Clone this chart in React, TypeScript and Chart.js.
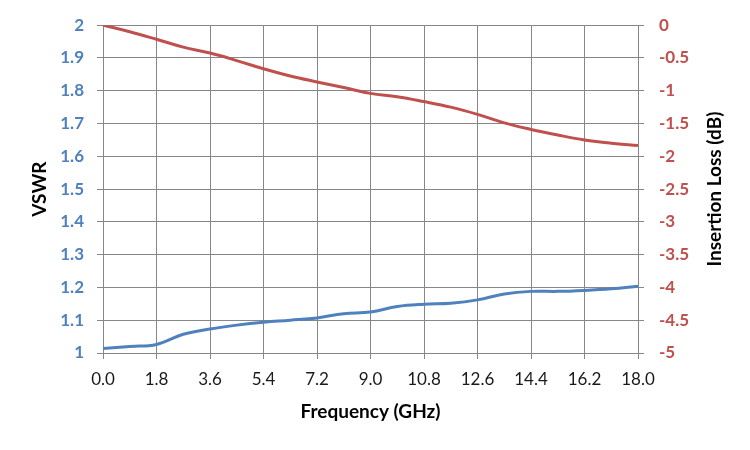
import { useEffect, useRef } from "react"
import { Chart, registerables } from "chart.js"

Chart.register(...registerables)

// frequency points in GHz
const freqs = [0, 0.9, 1.8, 2.7, 3.6, 4.5, 5.4, 6.3, 7.2, 8.1, 9.0, 9.9, 10.8, 11.7, 12.6, 13.5, 14.4, 15.3, 16.2, 17.1, 18.0]

const vswr = [
  1.014, 1.02, 1.026, 1.057, 1.073, 1.085, 1.094, 1.1, 1.107, 1.12, 1.125,
  1.142, 1.149, 1.152, 1.162, 1.18, 1.188, 1.188, 1.191, 1.196, 1.204,
]

const insertionLoss = [
  0, -0.1, -0.215, -0.335, -0.425, -0.54, -0.665, -0.775, -0.865, -0.95, -1.04,
  -1.09, -1.165, -1.25, -1.36, -1.49, -1.59, -1.675, -1.75, -1.8, -1.835,
]

const freqTicks = [0, 1.8, 3.6, 5.4, 7.2, 9.0, 10.8, 12.6, 14.4, 16.2, 18.0]

const BLUE = "#4F81BD"
const RED = "#C0504D"
const GRID = "#878787"
const FONT = "Lato, 'Open Sans', sans-serif"
const TICK_SIZE = 17
const TITLE_SIZE = 19

// right-hand title drawn bottom-to-top like the left one
const rightTitle = {
  id: "rightTitle",
  afterDraw(chart: Chart) {
    const ctx = chart.ctx
    const area = chart.chartArea
    ctx.save()
    ctx.translate(715, (area.top + area.bottom) / 2)
    ctx.rotate(-Math.PI / 2)
    ctx.font = `bold ${TITLE_SIZE}px ${FONT}`
    ctx.fillStyle = "#000"
    ctx.textAlign = "center"
    ctx.textBaseline = "middle"
    ctx.fillText("Insertion Loss (dB)", 0, 0)
    ctx.restore()
  },
}

export default function App() {
  const chartRef = useRef<HTMLCanvasElement | null>(null)
  const chartInstance = useRef<Chart | null>(null)

  useEffect(() => {
    if (!chartRef.current) return
    if (chartInstance.current) chartInstance.current.destroy()

    const ctx = chartRef.current.getContext("2d")
    if (!ctx) return

    const fmt = (v: number | string) => String(Math.round(Number(v) * 10) / 10)

    chartInstance.current = new Chart(ctx, {
      type: "line",
      data: {
        datasets: [
          {
            label: "VSWR",
            data: freqs.map((f, i) => ({ x: f, y: vswr[i] })),
            borderColor: BLUE,
            borderWidth: 3,
            pointRadius: 0,
            tension: 0.4,
            yAxisID: "y",
          },
          {
            label: "Insertion Loss",
            data: freqs.map((f, i) => ({ x: f, y: insertionLoss[i] })),
            borderColor: RED,
            borderWidth: 3,
            pointRadius: 0,
            tension: 0.4,
            yAxisID: "y2",
          },
        ],
      },
      options: {
        responsive: true,
        maintainAspectRatio: false,
        animation: false,
        layout: { padding: { top: 23, left: 0, right: 0, bottom: 0 } },
        plugins: {
          legend: { display: false },
          tooltip: { enabled: false },
        },
        scales: {
          x: {
            type: "linear",
            min: 0,
            max: 18,
            afterBuildTicks: (scale) => {
              scale.ticks = freqTicks.map((v) => ({ value: v }))
            },
            afterFit: (scale) => {
              scale.height = 97
            },
            grid: { color: GRID, tickLength: 6 },
            border: { color: GRID },
            ticks: {
              padding: 10,
              color: "#1a1a1a",
              font: { family: FONT, size: TICK_SIZE },
              maxRotation: 0,
              callback: (v) => Number(v).toFixed(1),
            },
            title: {
              display: true,
              text: "Frequency (GHz)",
              color: "#000",
              font: { family: FONT, size: TITLE_SIZE, weight: "bold" },
              padding: { top: 0, bottom: 27 },
            },
          },
          y: {
            position: "left",
            min: 1,
            max: 2,
            afterFit: (scale) => {
              scale.width = 103
            },
            grid: { color: GRID, tickLength: 6 },
            border: { color: GRID },
            ticks: {
              stepSize: 0.1,
              padding: 13,
              color: BLUE,
              font: { family: FONT, size: TICK_SIZE, weight: "bold" },
              callback: fmt,
            },
            title: {
              display: true,
              text: "VSWR",
              color: "#000",
              font: { family: FONT, size: TITLE_SIZE, weight: "bold" },
              padding: { top: 28, bottom: 0 },
            },
          },
          y2: {
            position: "right",
            min: -5,
            max: 0,
            afterFit: (scale) => {
              scale.width = 112
            },
            grid: { drawOnChartArea: false, color: GRID, tickLength: 6 },
            border: { color: GRID },
            ticks: {
              stepSize: 0.5,
              padding: 15,
              color: RED,
              font: { family: FONT, size: TICK_SIZE, weight: "bold" },
              callback: fmt,
            },
          },
        },
      },
      plugins: [rightTitle],
    })

    return () => {
      if (chartInstance.current) {
        chartInstance.current.destroy()
        chartInstance.current = null
      }
    }
  }, [])

  return (
    <div style={{ position: "fixed", left: 0, top: 0, width: 750, height: 450, background: "#fff" }}>
      <canvas ref={chartRef} />
    </div>
  )
}
